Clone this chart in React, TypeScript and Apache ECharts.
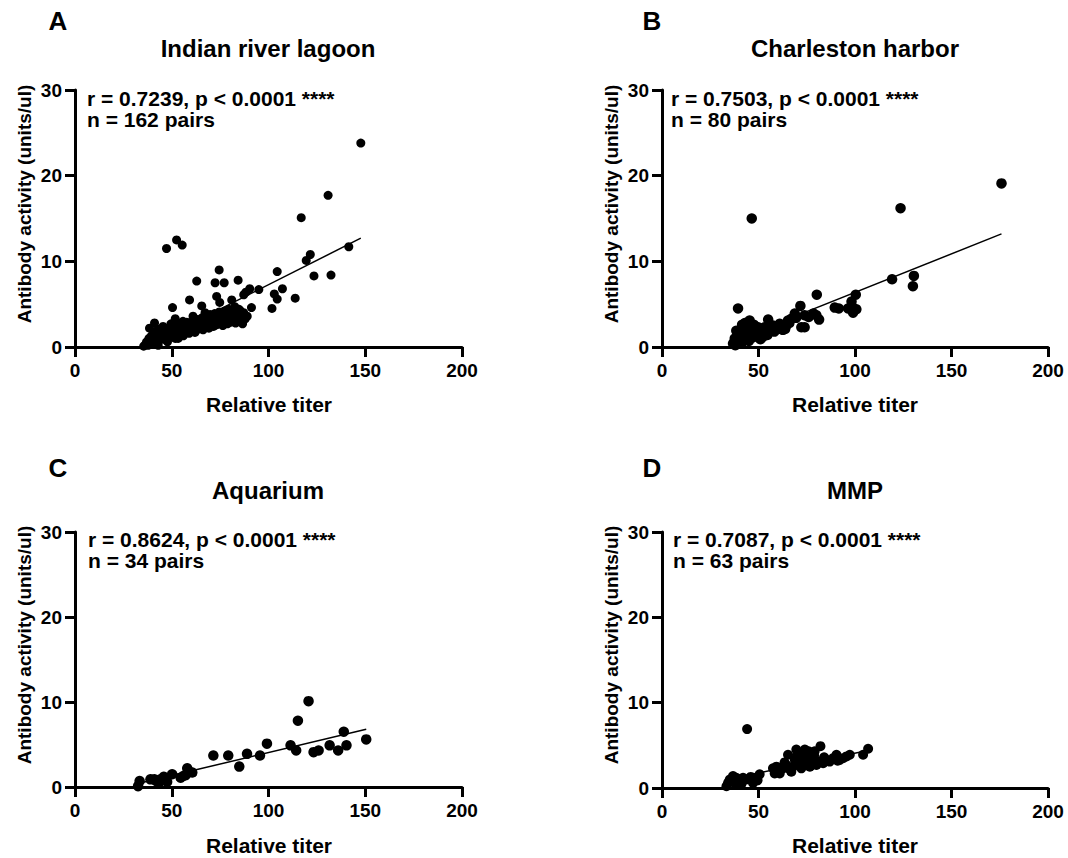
import React, { useEffect, useRef } from "react";
import * as echarts from "echarts";

const panelLetters = ["A", "B", "C", "D"];
const panelTitles = ["Indian river lagoon", "Charleston harbor", "Aquarium", "MMP"];
const statLines1 = [
  "r = 0.7239, p < 0.0001 ****",
  "r = 0.7503, p < 0.0001 ****",
  "r = 0.8624, p < 0.0001 ****",
  "r = 0.7087, p < 0.0001 ****",
];
const statLines2 = ["n = 162 pairs", "n = 80 pairs", "n = 34 pairs", "n = 63 pairs"];
const xAxisTitle = "Relative titer";
const yAxisTitle = "Antibody activity (units/ul)";
const xTicks = { min: 0, max: 200, interval: 50 };
const yTicks = { min: 0, max: 30, interval: 10 };

const pointsA: number[][] = [
  [147.7, 23.8], [130.8, 17.7], [116.9, 15.1], [47.3, 11.5], [52.5, 12.5], [55.4, 11.9],
  [141.5, 11.7], [121.6, 10.8], [119.5, 10.1], [74.5, 9.0], [104.5, 8.8], [62.9, 7.7],
  [72.4, 7.5], [77.1, 7.5], [84.3, 7.8], [123.5, 8.3], [132.3, 8.4], [90.3, 6.8],
  [88.3, 6.4], [95.0, 6.7], [103.0, 6.2], [107.2, 6.8], [113.8, 5.7], [104.5, 5.6],
  [101.8, 4.5], [73.2, 5.9], [74.8, 5.2], [59.2, 5.5], [65.5, 4.8], [81.0, 5.5],
  [82.6, 4.7], [91.2, 4.6], [50.4, 4.6], [51.8, 3.3], [87.2, 6.1], [41.1, 2.8],
  [38.5, 2.2], [85.5, 4.2], [79.5, 4.4],
  [35.5, 0.1], [36.4, 0.3], [37.0, 0.6], [37.8, 0.2], [38.2, 1.0], [38.9, 0.5],
  [39.5, 1.3], [40.1, 0.8], [40.6, 1.6], [41.2, 0.4], [41.8, 1.1], [42.3, 1.9],
  [42.9, 0.7], [43.5, 1.4], [44.1, 2.1], [44.6, 1.0], [45.2, 1.7], [45.8, 0.9],
  [46.4, 1.3], [47.0, 2.0], [47.6, 1.1], [48.2, 1.6], [48.8, 2.3], [49.4, 1.2],
  [50.0, 1.9], [50.6, 1.4], [51.2, 2.4], [51.8, 1.0], [52.4, 1.7], [53.0, 2.2],
  [53.6, 1.4], [54.2, 2.6], [54.8, 1.8], [55.4, 2.1], [56.0, 1.3], [56.6, 2.5],
  [57.2, 1.9], [57.8, 2.9], [58.4, 2.2], [59.0, 1.6], [59.6, 2.6], [60.2, 2.0],
  [60.8, 3.0], [61.4, 2.3], [62.0, 1.7], [62.6, 2.7], [63.2, 3.2], [63.8, 2.1],
  [64.4, 2.9], [65.0, 2.4], [65.6, 3.4], [66.2, 2.0], [66.8, 2.8], [67.4, 3.6],
  [68.0, 2.5], [68.6, 3.1], [69.2, 2.2], [69.8, 3.8], [70.4, 2.8], [71.0, 3.3],
  [71.6, 2.4], [72.2, 3.9], [72.8, 3.0], [73.4, 2.6], [74.0, 3.5], [74.6, 4.1],
  [75.2, 2.9], [75.8, 3.3], [76.4, 2.5], [77.0, 3.7], [77.6, 4.2], [78.2, 3.1],
  [78.8, 2.7], [79.4, 3.5], [80.0, 4.0], [80.6, 2.9], [81.2, 3.6], [81.8, 4.3],
  [82.4, 3.2], [83.0, 2.8], [83.6, 3.9], [84.2, 3.4], [84.8, 4.4], [85.4, 3.0],
  [86.0, 3.7], [86.6, 2.7], [87.2, 4.0], [88.0, 3.3], [89.0, 3.6], [45.5, 2.4],
  [49.6, 2.7], [55.8, 3.0], [61.0, 3.6], [67.2, 4.0], [43.0, 0.2], [47.8, 0.6],
  [53.3, 1.0],
];

const pointsB: number[][] = [
  [175.9, 19.1], [123.6, 16.2], [46.5, 15.0], [119.2, 7.9], [130.5, 8.3], [130.0, 7.1],
  [80.2, 6.1], [100.4, 6.1], [98.2, 5.3], [98.5, 4.7], [100.7, 4.4], [99.0, 4.0],
  [96.4, 4.5], [89.5, 4.6], [91.6, 4.5], [39.4, 4.5], [71.7, 4.8], [72.2, 2.3],
  [73.9, 2.3], [73.9, 3.7], [80.0, 3.7], [81.4, 3.2], [68.8, 3.9], [65.3, 3.1],
  [63.8, 2.1], [61.9, 2.3], [59.3, 2.1], [57.5, 2.5], [55.0, 3.2], [54.1, 1.9],
  [52.4, 1.2], [51.5, 2.1], [49.8, 2.3], [48.0, 1.8], [45.4, 3.1], [43.7, 1.6],
  [42.0, 2.3], [40.3, 1.2], [38.5, 1.9], [36.8, 0.4], [37.7, 1.0], [39.4, 0.6],
  [41.1, 0.4], [42.9, 0.8], [44.6, 1.0], [46.3, 1.4], [48.9, 1.6], [50.6, 1.6],
  [53.2, 2.3], [55.8, 2.3], [61.0, 2.7], [64.4, 2.5], [67.0, 3.3], [60.1, 2.1],
  [38.0, 0.2], [39.0, 1.4], [40.8, 1.8], [41.6, 0.9], [43.2, 1.2], [44.0, 2.0],
  [45.0, 0.7], [46.0, 2.4], [47.0, 1.1], [47.6, 2.6], [49.2, 1.3], [50.2, 1.9],
  [51.0, 0.9], [52.8, 1.7], [54.6, 1.4], [56.4, 2.0], [58.2, 1.8], [62.6, 2.0],
  [66.0, 2.8], [69.5, 3.4], [76.0, 3.5], [43.0, 2.8], [41.5, 2.6], [78.5, 3.9],
];

const pointsC: number[][] = [
  [32.6, 0.1], [33.4, 0.7], [39.0, 0.9], [41.0, 0.9], [43.3, 0.5], [44.2, 0.9],
  [45.9, 1.2], [47.6, 0.6], [50.2, 1.5], [54.6, 1.1], [56.0, 1.3], [57.2, 1.4],
  [58.0, 2.2], [60.6, 1.7], [71.5, 3.7], [79.2, 3.7], [84.9, 2.4], [88.9, 3.9],
  [95.6, 3.7], [99.2, 5.1], [111.4, 4.9], [114.3, 4.3], [115.2, 7.8], [120.7, 10.1],
  [123.3, 4.1], [125.9, 4.3], [131.6, 4.9], [136.0, 4.3], [140.3, 4.9], [138.9, 6.5],
  [150.5, 5.6], [46.5, 1.0], [42.0, 0.7], [59.0, 1.8],
];

const pointsD: number[][] = [
  [44.1, 6.9], [106.8, 4.6], [104.2, 3.9], [82.1, 4.9], [33.4, 0.2], [35.1, 1.0],
  [36.8, 1.4], [38.5, 1.2], [40.3, 1.0], [42.0, 1.2], [43.7, 1.0], [45.4, 1.0],
  [47.2, 0.6], [48.9, 1.2], [50.6, 1.6], [34.2, 0.6], [37.7, 0.6], [57.5, 2.3],
  [59.3, 2.5], [61.0, 1.7], [62.7, 2.3], [64.4, 2.7], [65.3, 3.9], [67.0, 1.9],
  [67.9, 2.5], [68.8, 3.3], [69.6, 4.5], [70.5, 2.9], [71.4, 4.1], [72.2, 2.3],
  [73.1, 3.5], [74.0, 4.5], [74.8, 2.9], [75.7, 3.7], [76.6, 2.5], [77.4, 4.1],
  [78.3, 3.3], [79.1, 4.3], [80.0, 2.7], [81.7, 3.1], [83.5, 2.9], [85.2, 3.3],
  [86.9, 3.1], [88.7, 3.5], [90.4, 3.9], [92.1, 3.3], [93.8, 3.5], [95.6, 3.7],
  [97.3, 3.9], [58.4, 1.7], [60.0, 2.0], [63.5, 3.0], [66.2, 2.2], [70.0, 3.8],
  [73.6, 3.0], [76.0, 4.3], [78.8, 3.8], [41.2, 0.5], [39.0, 0.8], [46.0, 1.3],
  [49.5, 0.9], [84.0, 3.6], [91.0, 3.2],
];

const fitA: number[][] = [[36.9, 0.1], [147.7, 12.7]];
const fitB: number[][] = [[36.8, 0.7], [175.9, 13.2]];
const fitC: number[][] = [[32.6, 0.4], [150.5, 6.8]];
const fitD: number[][] = [[33.4, 1.0], [106.8, 4.4]];

const allPoints = [pointsA, pointsB, pointsC, pointsD];
const allFits = [fitA, fitB, fitC, fitD];

const FONT = "'Liberation Sans', Arial, Helvetica, sans-serif";

// layout (positions/sizes only)
const grids = [
  { left: 75, top: 90, width: 387, height: 257 },
  { left: 662, top: 90, width: 386, height: 257 },
  { left: 75, top: 532, width: 387, height: 255 },
  { left: 662, top: 532, width: 386, height: 256 },
];
const symbolSizes = [9, 10.5, 10.5, 10];

export default function App() {
  const ref = useRef<HTMLDivElement>(null);
  useEffect(() => {
    document.body.style.margin = "0";
    if (!ref.current) return;
    const chart = echarts.init(ref.current, undefined, { renderer: "svg" });

    const axisCommon = {
      axisLine: { show: true, onZero: false, lineStyle: { color: "#000", width: 3 } },
      axisTick: { show: true, inside: false, length: 10, lineStyle: { color: "#000", width: 3 } },
      splitLine: { show: false },
      axisLabel: { color: "#000", fontSize: 19, fontWeight: "bold", fontFamily: FONT },
    };

    const xAxis = grids.map((_, i) => ({
      type: "value",
      gridIndex: i,
      min: xTicks.min,
      max: xTicks.max,
      interval: xTicks.interval,
      ...axisCommon,
      axisLabel: { ...axisCommon.axisLabel, margin: 14 },
    }));
    const yAxis = grids.map((_, i) => ({
      type: "value",
      gridIndex: i,
      min: yTicks.min,
      max: yTicks.max,
      interval: yTicks.interval,
      ...axisCommon,
      axisLabel: { ...axisCommon.axisLabel, margin: 13 },
    }));

    const series: any[] = [];
    allPoints.forEach((pts, i) => {
      series.push({
        type: "scatter",
        xAxisIndex: i,
        yAxisIndex: i,
        data: pts,
        symbol: "circle",
        symbolSize: symbolSizes[i],
        itemStyle: { color: "#000", opacity: 1 },
        z: 2,
      });
      series.push({
        type: "line",
        xAxisIndex: i,
        yAxisIndex: i,
        data: allFits[i],
        showSymbol: false,
        symbol: "none",
        lineStyle: { color: "#000", width: 1.5 },
        z: 3,
      });
    });

    const letterPos = [[58, 21], [652, 21], [58, 468], [652, 468]];
    const titlePos = [[268, 48], [855, 48], [268, 490], [855, 490]];
    const statPos = [[87, 98], [671, 98], [88, 539], [673, 539]];
    const xNamePos = [[269, 404], [855, 404], [269, 845], [855, 845]];
    const yNamePos = [[24, 204], [611, 204], [24, 645], [611, 645]];

    const graphic: any[] = [];
    for (let i = 0; i < 4; i++) {
      graphic.push({
        type: "text", x: letterPos[i][0], y: letterPos[i][1],
        style: { text: panelLetters[i], fill: "#000", font: `bold 26px ${FONT}`, align: "center", verticalAlign: "middle" },
      });
      graphic.push({
        type: "text", x: titlePos[i][0], y: titlePos[i][1],
        style: { text: panelTitles[i], fill: "#000", font: `bold 24px ${FONT}`, align: "center", verticalAlign: "middle" },
      });
      graphic.push({
        type: "text", x: statPos[i][0], y: statPos[i][1],
        style: { text: statLines1[i], fill: "#000", font: `bold 21px ${FONT}`, align: "left", verticalAlign: "middle" },
      });
      graphic.push({
        type: "text", x: statPos[i][0], y: statPos[i][1] + 21.5,
        style: { text: statLines2[i], fill: "#000", font: `bold 21px ${FONT}`, align: "left", verticalAlign: "middle" },
      });
      graphic.push({
        type: "text", x: xNamePos[i][0], y: xNamePos[i][1],
        style: { text: xAxisTitle, fill: "#000", font: `bold 21px ${FONT}`, align: "center", verticalAlign: "middle" },
      });
      graphic.push({
        type: "text", x: yNamePos[i][0], y: yNamePos[i][1], rotation: Math.PI / 2,
        style: { text: yAxisTitle, fill: "#000", font: `bold 19px ${FONT}`, align: "center", verticalAlign: "middle" },
      });
    }

    chart.setOption({
      animation: false,
      backgroundColor: "#fff",
      grid: grids.map((g) => ({ ...g, containLabel: false })),
      xAxis,
      yAxis,
      series,
      graphic,
    });
    return () => chart.dispose();
  }, []);
  return <div ref={ref} style={{ width: 1068, height: 858 }} />;
}
